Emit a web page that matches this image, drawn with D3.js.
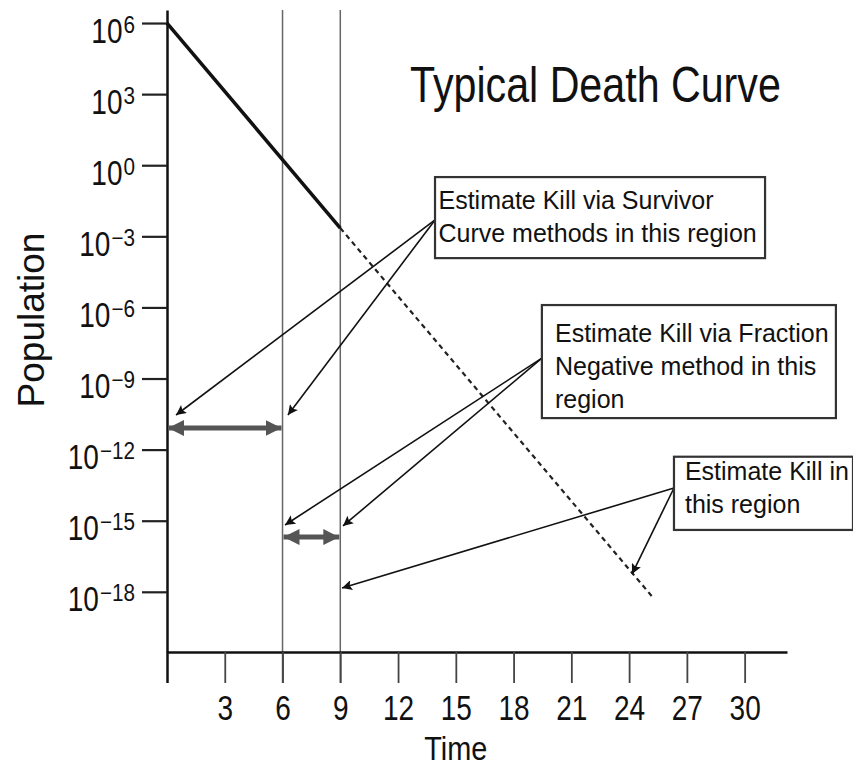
<!DOCTYPE html>
<html><head><meta charset="utf-8">
<script src="https://cdn.jsdelivr.net/npm/d3@7"></script>
<style>
html,body{margin:0;padding:0;background:#fff;}
svg{display:block;}
text{font-family:"Liberation Sans",Arial,Helvetica,sans-serif;}
</style></head>
<body>
<svg id="chart" width="853" height="771"></svg>
<script>
// ---- data ----
const timeTicks = [0, 3, 6, 9, 12, 15, 18, 21, 24, 27, 30];
const popTickExps = [6, 3, 0, -3, -6, -9, -12, -15, -18];
const solidT = [0, 9];
const solidLogN = [6, -2.65];
const dashedT = [9, 25.3];
const dashedLogN = [-2.65, -18.3];
const markerTimes = [6, 9];

const boxLines = [
  ["Estimate Kill via Survivor", "Curve methods in this region"],
  ["Estimate Kill via Fraction", "Negative method in this", "region"],
  ["Estimate Kill in", "this region"]
];
const boxT0 = [13.92, 19.47, 26.33];
const boxT1 = [31.06, 34.74, 36.2];
const boxTopExp = [-0.5, -5.9, -12.3];
const boxBottomExp = [-3.92, -10.67, -15.39];
const boxTextT = [14.1, 20.15, 26.9];
const boxTextExp = [-1.85, -7.46, -13.28];

const arrowFromT = [13.92, 13.92, 19.47, 19.47, 26.33, 26.33];
const arrowFromExp = [-2.31, -2.31, -8.14, -8.14, -13.62, -13.62];
const arrowToT = [0.47, 6.28, 6.13, 9.14, 9.09, 24.15];
const arrowToExp = [-10.54, -10.54, -15.18, -15.22, -17.84, -17.25];

const rangeT0 = [0, 6];
const rangeT1 = [6, 9];
const rangeExp = [-11.09, -15.69];

// ---- scales ----
const svg = d3.select("#chart");
const x = d3.scaleLinear().domain([0, 32.2]).range([167, 787]);
const y = d3.scaleLog().domain([Math.pow(10, -20.54), Math.pow(10, 6.55)]).range([652, 10]);
const yE = e => y(Math.pow(10, e));
const NARROW = 0.8;

// defs
const defs = svg.append("defs");
defs.append("marker").attr("id", "ah").attr("viewBox", "0 0 10 10")
  .attr("refX", 10).attr("refY", 5).attr("markerUnits", "userSpaceOnUse")
  .attr("markerWidth", 12).attr("markerHeight", 10).attr("orient", "auto")
  .append("path").attr("d", "M0,0 L10,5 L0,10 L2,5 Z").attr("fill", "#111");
defs.append("marker").attr("id", "dh").attr("viewBox", "0 0 10 10")
  .attr("refX", 10).attr("refY", 5).attr("markerUnits", "userSpaceOnUse")
  .attr("markerWidth", 16).attr("markerHeight", 16).attr("orient", "auto-start-reverse")
  .append("path").attr("d", "M0,0 L10,5 L0,10 Z").attr("fill", "#555");

// marker vertical lines (6, 9)
svg.append("g").selectAll("line").data(markerTimes).join("line")
  .attr("x1", d => x(d)).attr("x2", d => x(d))
  .attr("y1", y.range()[1]).attr("y2", y.range()[0] + 31)
  .attr("stroke", "#666").attr("stroke-width", 1.5);

// x axis
const xAxis = svg.append("g").attr("transform", `translate(0,${y.range()[0]})`)
  .call(d3.axisBottom(x).tickValues(timeTicks).tickSize(31).tickSizeOuter(0)
    .tickFormat(d => d === 0 ? "" : d));
xAxis.select(".domain").attr("stroke", "#111").attr("stroke-width", 2.5);
xAxis.selectAll(".tick line").attr("stroke", "#444").attr("stroke-width", 1.8);
xAxis.selectAll(".tick").filter(d => d === 0).select("line").attr("stroke", "#111").attr("stroke-width", 2.5);
xAxis.selectAll(".tick text").attr("font-size", 35).attr("font-family", null)
  .attr("fill", "#111").attr("dy", null).attr("y", 0)
  .attr("transform", `translate(0,68) scale(${NARROW},1)`);

// y axis
const yAxis = svg.append("g").attr("transform", `translate(${x(0)},0)`)
  .call(d3.axisLeft(y).tickValues(popTickExps.map(e => Math.pow(10, e))).tickSize(25).tickSizeOuter(0)
    .tickFormat(() => ""));
yAxis.select(".domain").attr("stroke", "#111").attr("stroke-width", 2.5);
yAxis.selectAll(".tick line").attr("stroke", "#222").attr("stroke-width", 2.2);
yAxis.selectAll(".tick").each(function(d) {
  const e = Math.round(Math.log10(d));
  const g = d3.select(this);
  const sup = g.append("text").attr("font-size", 23).attr("font-family", null).attr("fill", "#111")
    .attr("text-anchor", "end").attr("x", 0).attr("y", 0)
    .attr("transform", `translate(-32,9) scale(0.9,1)`)
    .text(e < 0 ? "\u2212" + Math.abs(e) : String(e));
  const w = sup.node().getComputedTextLength() * 0.9;
  g.append("text").attr("font-size", 35).attr("font-family", null).attr("fill", "#111")
    .attr("text-anchor", "end").attr("x", 0).attr("y", 0)
    .attr("transform", `translate(${-32 - w - 1},19) scale(${NARROW},1)`)
    .text("10");
});

// death curve
const line = d3.line().x(d => x(d[0])).y(d => yE(d[1]));
svg.append("path").datum(solidT.map((t, i) => [t, solidLogN[i]]))
  .attr("d", line).attr("fill", "none").attr("stroke", "#111").attr("stroke-width", 3.5);
svg.append("path").datum(dashedT.map((t, i) => [t, dashedLogN[i]]))
  .attr("d", line).attr("fill", "none").attr("stroke", "#222").attr("stroke-width", 2.2)
  .attr("stroke-dasharray", "5,4");

// range double arrows
svg.append("g").selectAll("line").data(rangeT0).join("line")
  .attr("x1", (d, i) => x(rangeT0[i]) + 1).attr("x2", (d, i) => x(rangeT1[i]) - 1)
  .attr("y1", (d, i) => yE(rangeExp[i])).attr("y2", (d, i) => yE(rangeExp[i]))
  .attr("stroke", "#555").attr("stroke-width", 5)
  .attr("marker-start", "url(#dh)").attr("marker-end", "url(#dh)");

// pointer arrows
svg.append("g").selectAll("line").data(arrowFromT).join("line")
  .attr("x1", (d, i) => x(arrowFromT[i])).attr("y1", (d, i) => yE(arrowFromExp[i]))
  .attr("x2", (d, i) => x(arrowToT[i])).attr("y2", (d, i) => yE(arrowToExp[i]))
  .attr("stroke", "#111").attr("stroke-width", 1.6).attr("marker-end", "url(#ah)");

// boxes
const boxes = svg.append("g").selectAll("g").data(boxLines).join("g");
boxes.append("rect")
  .attr("x", (d, i) => x(boxT0[i])).attr("y", (d, i) => yE(boxTopExp[i]))
  .attr("width", (d, i) => Math.min(x(boxT1[i]), 853) - x(boxT0[i]))
  .attr("height", (d, i) => yE(boxBottomExp[i]) - yE(boxTopExp[i]))
  .attr("fill", "#fff").attr("stroke", "#333").attr("stroke-width", 2.2);
boxes.each(function(lines, i) {
  const g = d3.select(this);
  lines.forEach((s, j) => {
    g.append("text").attr("font-size", 25).attr("fill", "#111")
      .attr("x", x(boxTextT[i])).attr("y", yE(boxTextExp[i]) + j * 33).text(s);
  });
});

// title
svg.append("text").attr("font-size", 50).attr("fill", "#111")
  .attr("transform", "translate(410,102) scale(0.824,1)")
  .text("Typical Death Curve");

// axis titles
svg.append("text").attr("font-size", 34).attr("fill", "#111")
  .attr("text-anchor", "middle").attr("transform", `translate(${x(15)},760) scale(0.85,1)`).text("Time");
svg.append("text").attr("font-size", 37).attr("fill", "#111")
  .attr("text-anchor", "middle").attr("transform", "translate(44,320) rotate(-90)")
  .text("Population");
</script>
</body></html>
